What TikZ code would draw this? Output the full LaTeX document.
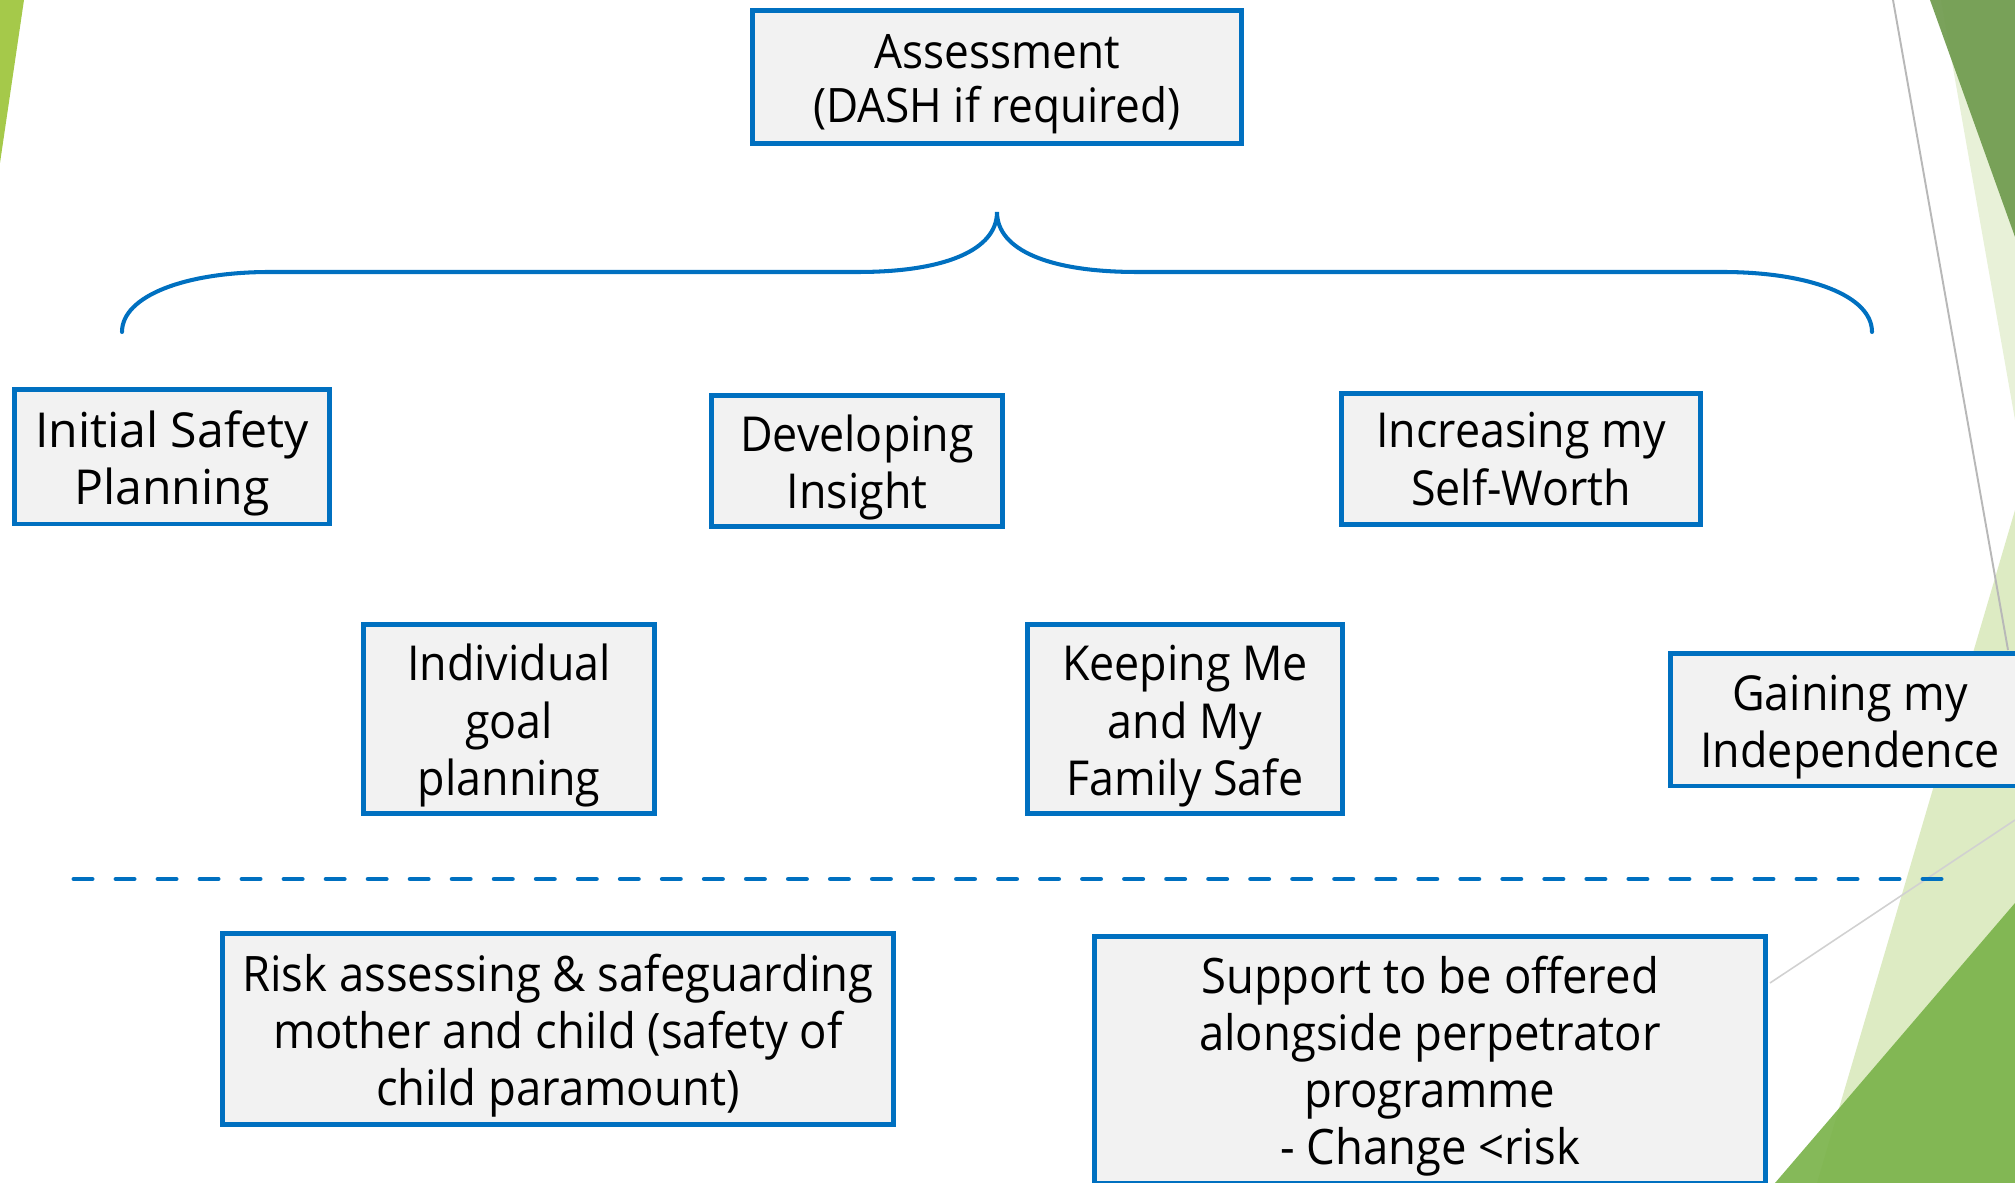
\documentclass[tikz,border=0pt]{standalone}
\usepackage{fontspec}
\setmainfont[FakeStretch=0.93]{Open Sans}
\newfontfamily\widesans[FakeStretch=1.0]{Open Sans}
\usepackage{tikz}
\usepackage{xcolor}
\definecolor{boxblue}{HTML}{0070C0}
\definecolor{boxgrey}{HTML}{F2F2F2}
\definecolor{leafdark}{HTML}{739D52}
\definecolor{leafpale}{HTML}{E8F1D8}
\definecolor{leaflight}{HTML}{DDEBC3}
\definecolor{leafmid}{HTML}{7BB34B}
\definecolor{leafside}{HTML}{A5C94A}
\newcommand{\lift}{\rule{0pt}{1.03em}}

\begin{document}
\begin{tikzpicture}[x=0.01cm,y=-0.01cm,
    stage/.style={draw=boxblue,fill=boxgrey,line width=1.4pt,align=center,inner sep=0pt,
                  font=\fontsize{13.7}{16.4}\selectfont},
    bracket/.style={boxblue,line width=1.15pt,line cap=round}]
        \useasboundingbox (0,0) rectangle (2015,1183);
        \clip (0,0) rectangle (2015,1183);
      % corner leaves
        \fill[leafside] (0,0) -- (24,0) -- (0,163) -- cycle;
        \fill[leafpale] (1941,0) -- (2015,0) -- (2015,420) -- cycle;
        \fill[leafdark,opacity=.95] (1930,0) -- (2015,0) -- (2015,237) -- cycle;
        \fill[leaflight] (2015,510) -- (1817,1183) -- (2015,1183) -- cycle;
        \fill[leafmid,opacity=.92] (2015,903) -- (1775,1183) -- (2015,1183) -- cycle;
        \draw[black!28,line width=.55pt] (1893,0) -- (2008,650);
        \draw[black!18,line width=.45pt] (1770,983) -- (2015,820);
      % top box and brace
        \node[stage,minimum width=4.89cm,minimum height=1.33cm,
              font=\fontsize{13.5}{15.4}\selectfont] (assess) at (997,77) {\lift Assessment\\(DASH if required)};
        \coordinate (tip) at (997,212);
        \coordinate (lend) at (122,332);
        \coordinate (rend) at (1872,332);
        \draw[bracket] (lend) .. controls (122,296) and (185,272) .. (270,272) -- (858,272)
                  .. controls (945,272) and (997,250) .. (tip)
                  .. controls (997,250) and (1049,272) .. (1137,272) -- (1722,272)
                  .. controls (1810,272) and (1872,296) .. (rend);
      % stages
        \node[stage,minimum width=3.14cm,minimum height=1.34cm,
              font=\widesans\fontsize{13.7}{16.4}\selectfont] (initial) at (172,457) {\lift Initial Safety\\Planning};
        \node[stage,minimum width=2.91cm,minimum height=1.31cm] (insight) at (857,461) {\lift Developing\\Insight};
        \node[stage,minimum width=3.58cm,minimum height=1.31cm] (worth) at (1521,459) {Increasing my\\Self-Worth};
        \node[stage,minimum width=2.91cm,minimum height=1.89cm] (goal) at (509,719) {\lift Individual\\goal\\planning};
        \node[stage,minimum width=3.14cm,minimum height=1.89cm] (safe) at (1185,719) {\lift Keeping Me\\and My\\Family Safe};
        \node[stage,minimum width=3.59cm,minimum height=1.32cm] (indep) at (1850,720) {\lift Gaining my\\Independence};
      % divider
        \draw[boxblue,line width=1.42pt,line cap=round,dash pattern=on 0.18cm off 0.24cm] (74,879) -- (1941,879);
      % bottom row
        \node[stage,minimum width=6.70cm,minimum height=1.90cm,
              font=\fontsize{13.9}{16.2}\selectfont] (risk) at (558,1029)
              {\lift Risk assessing \& safeguarding\\mother and child (safety of\\child paramount)};
        \node[stage,minimum width=6.71cm,minimum height=2.47cm,
              font=\fontsize{13.9}{16.2}\selectfont] (support) at (1430,1060)
              {\lift Support to be offered\\alongside perpetrator\\programme\\- Change <risk};
      %  \draw[boxblue] (assess) -- (tip);
\end{tikzpicture}
\end{document}
